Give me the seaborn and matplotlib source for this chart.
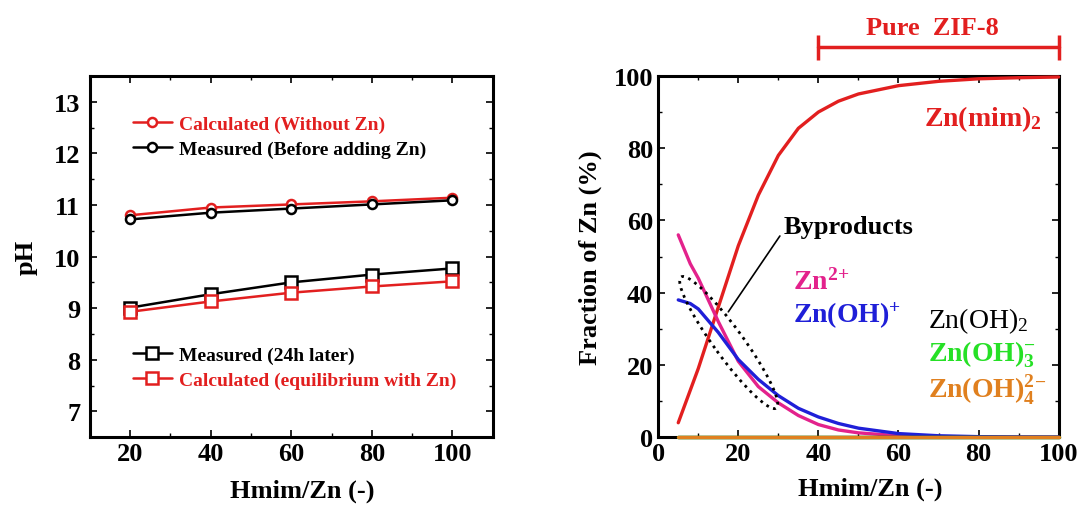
import numpy as np
import pandas as pd
import seaborn as sns
import matplotlib.pyplot as plt
from matplotlib.patches import Ellipse
from matplotlib.transforms import ScaledTranslation
from matplotlib.ticker import MultipleLocator

# ---- left panel data: pH vs Hmim/Zn ----
ratio = [20, 40, 60, 80, 100]
ph_calc_nozn = [10.80, 10.95, 11.01, 11.07, 11.14]
ph_meas_before = [10.72, 10.85, 10.93, 11.01, 11.09]
ph_meas_24h = [9.01, 9.27, 9.50, 9.65, 9.77]
ph_calc_eq = [8.93, 9.13, 9.30, 9.42, 9.52]

# ---- right panel data: fraction of Zn species ----
ratio_frac = [5, 8, 10, 15, 20, 25, 30, 35, 40, 45, 50, 60, 70, 80, 90, 100]
frac_znmim2 = [4, 13, 19, 36, 53, 67, 78, 85.5, 90, 93, 95, 97.3, 98.5, 99.2, 99.5, 99.7]
frac_zn2 = [56, 48, 44, 32, 21, 14, 9.5, 6, 3.5, 2, 1.2, 0.4, 0.15, 0.05, 0.02, 0]
frac_znoh = [38, 37, 35.5, 29, 21.5, 16, 11.5, 8, 5.6, 3.8, 2.5, 1.0, 0.4, 0.15, 0.05, 0.02]
frac_znoh2 = [0.1, 0.1, 0.1, 0.1, 0.1, 0.1, 0.1, 0.1, 0.1, 0.1, 0.1, 0.1, 0.1, 0.1, 0.1, 0.1]
frac_znoh3 = [0, 0, 0, 0, 0, 0, 0, 0, 0, 0, 0, 0, 0, 0, 0, 0]
frac_znoh4 = [0, 0, 0, 0, 0, 0, 0, 0, 0, 0, 0, 0, 0, 0, 0, 0]
zif_range = [40, 100]

RED = "#e21f1f"
MAG = "#e3228c"
BLUE = "#1f1fd8"
GREEN = "#26e026"
ORANGE = "#e0801f"

sns.set_style("ticks")
plt.rcParams['font.family'] = ['Liberation Serif', 'DejaVu Serif']
plt.rcParams['font.weight'] = 'bold'
plt.rcParams['mathtext.default'] = 'regular'
plt.rcParams['axes.linewidth'] = 2.2
plt.rcParams['axes.edgecolor'] = 'black'
plt.rcParams['axes.labelcolor'] = 'black'
plt.rcParams['text.color'] = 'black'
for a in ['xtick', 'ytick']:
    plt.rcParams[f'{a}.direction'] = 'in'
    plt.rcParams[f'{a}.major.size'] = 5
    plt.rcParams[f'{a}.minor.size'] = 3
    plt.rcParams[f'{a}.major.width'] = 1.2
    plt.rcParams[f'{a}.minor.width'] = 1.0
    plt.rcParams[f'{a}.color'] = 'black'
    plt.rcParams[f'{a}.labelcolor'] = 'black'
plt.rcParams['xtick.top'] = True
plt.rcParams['ytick.right'] = True

fig = plt.figure(figsize=(10.88, 5.06), dpi=100)
ax1 = fig.add_axes([0.0827, 0.134, 0.370, 0.714])
ax2 = fig.add_axes([0.605, 0.134, 0.368, 0.714])

# ---------------- left panel ----------------
series = [
    (ph_calc_nozn, RED, 'o', 6.5, "Calculated (Without Zn)"),
    (ph_meas_before, 'black', 'o', 6.5, "Measured (Before adding Zn)"),
    (ph_meas_24h, 'black', 's', 8, "Measured (24h later)"),
    (ph_calc_eq, RED, 's', 8, "Calculated (equilibrium with Zn)"),
]
for vals, col, mk, ms, lab in series:
    sns.lineplot(x=ratio, y=vals, ax=ax1, color=col, marker=mk, ms=ms,
                 mfc='white', mec=col, mew=1.8, lw=1.8, label=lab)
h, l = ax1.get_legend_handles_labels()
ax1.get_legend().remove()
kw = dict(frameon=False, loc='center left', fontsize=14, labelcolor='linecolor',
          handlelength=2.0, handletextpad=0.35, labelspacing=0.4,
          borderaxespad=0, borderpad=0)
leg1 = ax1.legend(h[:2], l[:2], bbox_to_anchor=(0.107, 0.832), **kw)
ax1.add_artist(leg1)
ax1.legend(h[2:], l[2:], bbox_to_anchor=(0.107, 0.193), **kw)

ax1.set_xlim(10, 110)
ax1.set_ylim(6.5, 13.5)
ax1.xaxis.set_major_locator(MultipleLocator(20))
ax1.xaxis.set_minor_locator(MultipleLocator(10))
ax1.yaxis.set_major_locator(MultipleLocator(1))
ax1.yaxis.set_minor_locator(MultipleLocator(0.5))
ax1.set_xticks([20, 40, 60, 80, 100])
ax1.set_xlabel("Hmim/Zn (-)", fontsize=19, fontweight='bold')
ax1.set_ylabel("pH", fontsize=19, fontweight='bold')
ax1.xaxis.set_label_coords(0.528, -0.115)
ax1.yaxis.set_label_coords(-0.129, 0.5)
ax1.tick_params(labelsize=19, which='both', top=True, right=True)
ax1.tick_params(axis='y', pad=7)

# ---------------- right panel ----------------
frac_series = [
    (frac_znmim2, RED), (frac_zn2, MAG), (frac_znoh, BLUE),
    (frac_znoh2, 'black'), (frac_znoh3, GREEN), (frac_znoh4, ORANGE),
]
for vals, col in frac_series:
    sns.lineplot(x=ratio_frac, y=vals, ax=ax2, color=col, lw=2.4,
                 clip_on=False, zorder=3)

ax2.set_xlim(0, 100)
ax2.set_ylim(0, 100)
ax2.xaxis.set_major_locator(MultipleLocator(20))
ax2.xaxis.set_minor_locator(MultipleLocator(10))
ax2.yaxis.set_major_locator(MultipleLocator(20))
ax2.yaxis.set_minor_locator(MultipleLocator(10))
ax2.set_xlabel("Hmim/Zn (-)", fontsize=19, fontweight='bold')
ax2.set_ylabel("Fraction of Zn (%)", fontsize=19, fontweight='bold')
ax2.xaxis.set_label_coords(0.53, -0.11)
ax2.yaxis.set_label_coords(-0.14, 0.5)
ax2.tick_params(labelsize=19, which='both', top=True, right=True)

# species labels
lab_kw = dict(fontsize=20, va='center')
ax2.text(66.5, 88.4, r"Zn(mim)$_2$", color=RED, **lab_kw)
ax2.text(33.7, 43, r"Zn$^{2}$$^{+}$", color=MAG, **lab_kw)
ax2.text(33.7, 33.8, r"Zn(OH)$^{+}$", color=BLUE, **lab_kw)
ax2.text(67.4, 32.4, r"Zn(OH)$_2$", color='black', fontweight='normal', **lab_kw)
ax2.text(67.4, 23, r"Zn(OH)$_3^{-}$", color=GREEN, **lab_kw)
ax2.text(67.4, 13.4, r"Zn(OH)$_4^{2}$$^{-}$", color=ORANGE, **lab_kw)

# byproducts annotation
ax2.annotate("Byproducts", xy=(17.5, 34.7), xytext=(31.2, 58.3), fontsize=19,
             va='center', ha='left',
             arrowprops=dict(arrowstyle='-', color='black', lw=1.2,
                             shrinkA=0, shrinkB=0, relpos=(0, 0.3)))
tr = fig.dpi_scale_trans + ScaledTranslation(17.6, 26.2, ax2.transData)
ax2.add_patch(Ellipse((0, 0), width=1.62, height=0.29, angle=-54, transform=tr,
                      fill=False, ls=':', lw=2, ec='black', zorder=4))

# Pure ZIF-8 range bar
ax2.plot(zif_range, [108, 108], color=RED, lw=2.5, marker='|', ms=18, mew=2.5,
         clip_on=False)
ax2.text(np.mean(zif_range) - 1.5, 113.3, "Pure  ZIF-8", color=RED, fontsize=19,
         ha='center', va='center', clip_on=False)

fig.savefig("out.png", dpi=100)
